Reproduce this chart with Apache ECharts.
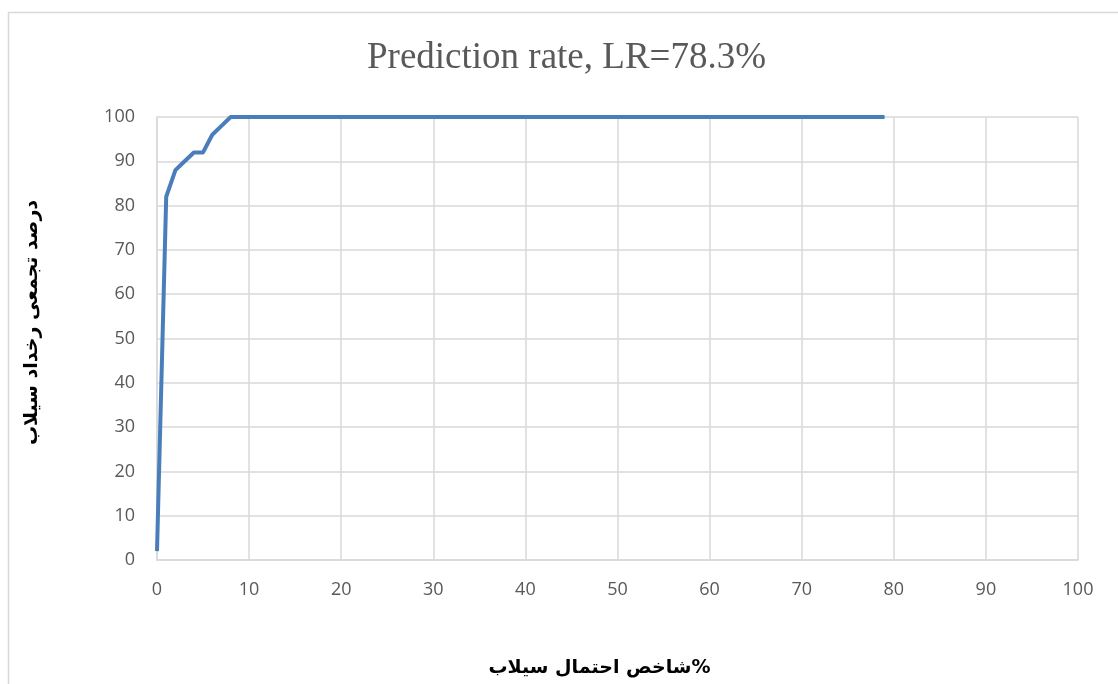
<!DOCTYPE html>
<html lang="fa">
<head>
	<meta charset="UTF-8">
	<title>Prediction rate</title>
	<style type="text/css">
	html, body {
		margin: 0;
		padding: 0;
		background: #fff;
	}
	.chart {
		width: 1118px;
		height: 684px;
	}
</style>
</head>
<body>
	<div class="chart"></div>

	<script type="text/javascript" src="https://cdn.jsdelivr.net/npm/echarts@6/dist/echarts.min.js"></script>
	<script type="text/javascript">

		// data
		var xValues = [0, 1, 2, 3, 4, 5, 6, 7, 8, 79];
		var yValues = [2, 82, 88, 90, 92, 92, 96, 98, 100, 100];
		var xTicks = [0, 10, 20, 30, 40, 50, 60, 70, 80, 90, 100];
		var yTicks = [0, 10, 20, 30, 40, 50, 60, 70, 80, 90, 100];

		var chart = echarts.init(document.getElementsByClassName("chart")[0]);

		var points = xValues.map(function (x, i) {
			return [x, yValues[i]];
		});

		var gridColor = "#d9d9d9";
		var labelColor = "#595959";

		var option = {
			animation: false,
			title: {
				text: "Prediction rate, LR=78.3%",
				left: 362,
				top: 35,
				textStyle: {
					fontFamily: "Liberation Serif",
					fontWeight: "normal",
					fontSize: 37,
					color: labelColor
				}
			},
			graphic: [{
				type: "rect",
				shape: { x: 8.5, y: 12.5, width: 1200, height: 800 },
				style: { fill: "none", stroke: "#d9d9d9", lineWidth: 1.5 },
				silent: true
			}],
			grid: {
				left: 157,
				right: 40,
				top: 117,
				bottom: 124
			},
			xAxis: {
				type: "value",
				min: xTicks[0],
				max: xTicks[xTicks.length - 1],
				interval: 10,
				name: "شاخص احتمال سیلاب%",
				nameLocation: "middle",
				nameGap: 99,
				nameTextStyle: {
					fontFamily: "DejaVu Sans",
					fontWeight: "bold",
					fontSize: 19,
					color: "#000",
					padding: [0, 36, 0, 0]
				},
				axisLine: { lineStyle: { color: gridColor, width: 1.5 } },
				axisTick: { show: false },
				axisLabel: {
					margin: 21,
					fontFamily: "Open Sans",
					fontSize: 18,
					color: labelColor
				},
				splitLine: { lineStyle: { color: gridColor, width: 1.5 } }
			},
			yAxis: {
				type: "value",
				min: yTicks[0],
				max: yTicks[yTicks.length - 1],
				interval: 10,
				name: "درصد تجمعی رخداد سیلاب",
				nameLocation: "middle",
				nameRotate: 90,
				nameGap: 115,
				nameTextStyle: {
					fontFamily: "DejaVu Sans",
					fontWeight: "bold",
					fontSize: 19,
					color: "#000",
					padding: [0, 0, 0, 32]
				},
				axisLine: { show: true, lineStyle: { color: gridColor, width: 1.5 } },
				axisTick: { show: false },
				axisLabel: {
					margin: 22,
					fontFamily: "Open Sans",
					fontSize: 18,
					color: labelColor
				},
				splitLine: { lineStyle: { color: gridColor, width: 1.5 } }
			},
			series: [{
				type: "line",
				data: points,
				showSymbol: false,
				lineStyle: {
					color: "#4a7ebb",
					width: 4,
					join: "round"
				}
			}]
		};

		chart.setOption(option);

	</script>
</body>
</html>
